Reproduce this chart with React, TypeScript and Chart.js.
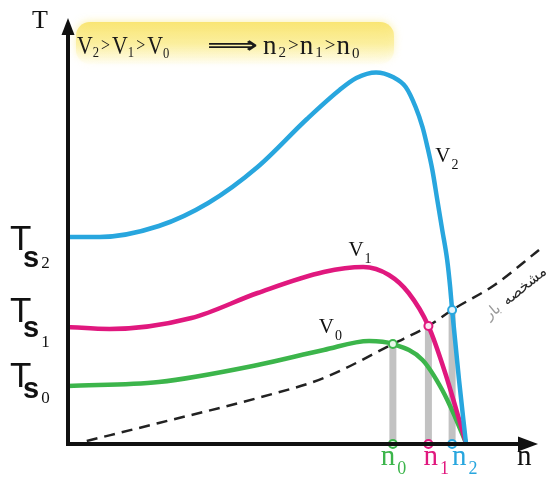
import { useEffect, useRef } from "react";
import { Chart, registerables } from "chart.js";

Chart.register(...registerables);

// Motor speed n (x) and torque T (y) for three supply voltages
const speedV0 = [0, 23, 48, 64.75, 76.25, 82.25, 89.75, 94.75, 98, 100.75];
const torqueV0 = [14.5, 15.5, 19.75, 23.5, 25.75, 25, 21, 13.5, 6.75, 0.25];

const speedV1 = [0, 10.5, 31.25, 48, 64.75, 74.75, 81.25, 86.25, 91.25, 95.5, 100.75];
const torqueV1 = [29.25, 28.75, 31.5, 37.75, 43, 44.25, 42.25, 37.75, 29.5, 17.75, 0.25];

const speedV2 = [0, 8, 23, 35.5, 48, 60.5, 68.75, 73, 78, 82.25, 85.5, 88, 89.75, 91, 92.25, 93.5, 94.75, 96, 96.75, 97.25, 99, 100.75];
const torqueV2 = [51.75, 51.75, 54.5, 60.25, 69.25, 81.25, 88.5, 91.5, 92.9, 91.75, 89.25, 84.25, 79.25, 74.25, 68.5, 61, 53.5, 46, 39.25, 33.5, 16, 0.25];

// Load characteristic
const loadSpeed = [4.75, 23, 48, 64.75, 82.25, 91.25, 97.25, 108, 119.25];
const loadTorque = [0.75, 5.25, 11.5, 16.5, 25, 29.5, 33.5, 39.75, 48.5];

// Operating points n0, n1, n2 (load line meets each motor curve)
const opSpeed = [82.25, 91.25, 97.25];
const opTorque = [25, 29.5, 33.5];

// Index labels (0 → V0 / n0 / Ts0, ...)
const indexLabels = ["0", "1", "2"];
const seriesColors = ["#3cb54b", "#e0187e", "#28a6de"];
const pointFills = ["#e9f7ea", "#fbe6f1", "#e4f4fb"];

const xy = (xs: number[], ys: number[]) => xs.map((x, i) => ({ x, y: ys[i] }));

type Run = { t: string; font: string; dy?: number; gap?: number };

function drawRuns(ctx: CanvasRenderingContext2D, x: number, y: number, runs: Run[], sx = 1) {
  let cx = x;
  for (const r of runs) {
    ctx.font = r.font;
    const w = ctx.measureText(r.t).width * sx;
    ctx.save();
    ctx.translate(cx, y + (r.dy || 0));
    ctx.scale(sx, 1);
    ctx.fillText(r.t, 0, 0);
    ctx.restore();
    cx += w + (r.gap || 0);
  }
  return cx;
}

const SERIF = "'Liberation Serif', 'Times New Roman', serif";
const SANS = "'Liberation Sans', Arial, sans-serif";

const decorPlugin = {
  id: "diagramDecor",
  beforeDatasetsDraw(chart: any) {
    const ctx: CanvasRenderingContext2D = chart.ctx;
    // highlighted relation box
    ctx.save();
    const g = ctx.createLinearGradient(0, 22, 0, 66);
    g.addColorStop(0, "rgba(249,228,110,0.95)");
    g.addColorStop(0.5, "rgba(251,238,150,0.75)");
    g.addColorStop(1, "rgba(255,252,225,0.1)");
    ctx.fillStyle = g;
    ctx.shadowColor = "rgba(250,235,140,0.8)";
    ctx.shadowBlur = 8;
    ctx.beginPath();
    (ctx as any).roundRect(76, 22, 318, 42, 14);
    ctx.fill();
    ctx.restore();
  },
  afterDatasetsDraw(chart: any) {
    const ctx: CanvasRenderingContext2D = chart.ctx;
    const xs = chart.scales.x;
    const ys = chart.scales.y;
    const ox = xs.getPixelForValue(0);
    const oy = ys.getPixelForValue(0);
    const top = ys.getPixelForValue(106.5);
    const right = xs.getPixelForValue(119);

    ctx.save();
    // axes with arrow heads
    ctx.strokeStyle = "#111";
    ctx.fillStyle = "#111";
    ctx.lineWidth = 4;
    ctx.beginPath();
    ctx.moveTo(ox, oy + 2);
    ctx.lineTo(ox, top + 12);
    ctx.moveTo(ox - 2, oy);
    ctx.lineTo(right - 16, oy);
    ctx.stroke();
    ctx.beginPath();
    ctx.moveTo(ox, top);
    ctx.lineTo(ox - 6.5, top + 17);
    ctx.lineTo(ox + 6.5, top + 17);
    ctx.closePath();
    ctx.fill();
    ctx.beginPath();
    ctx.moveTo(right, oy);
    ctx.lineTo(right - 20, oy - 7.5);
    ctx.lineTo(right - 20, oy + 7.5);
    ctx.closePath();
    ctx.fill();

    // axis names
    ctx.fillStyle = "#111";
    ctx.textAlign = "left";
    ctx.textBaseline = "alphabetic";
    ctx.font = `26px ${SERIF}`;
    ctx.fillText("T", 32, 28);
    ctx.font = `29px ${SERIF}`;
    ctx.fillText("n", 517, 465);

    // relation text in the box
    ctx.fillStyle = "#1a1a1a";
    const base = 54;
    const vf = `26px ${SERIF}`;
    const sf = `15px ${SERIF}`;
    const gf = `19px ${SERIF}`;
    drawRuns(
      ctx,
      77,
      base,
      [
        { t: "V", font: vf },
        { t: "2", font: sf, dy: 3, gap: 2 },
        { t: ">", font: gf, dy: -3, gap: 2 },
        { t: "V", font: vf },
        { t: "1", font: sf, dy: 3, gap: 2 },
        { t: ">", font: gf, dy: -3, gap: 2 },
        { t: "V", font: vf },
        { t: "0", font: sf, dy: 4 },
      ],
      0.84
    );
    ctx.font = `bold 24px 'DejaVu Sans', sans-serif`;
    const am = ctx.measureText("⟹");
    const aMid = (am.actualBoundingBoxAscent - am.actualBoundingBoxDescent) / 2;
    ctx.save();
    ctx.translate(207, base - 9 + aMid);
    ctx.scale(51 / am.width, 1);
    ctx.fillText("⟹", 0, 0);
    ctx.restore();
    const nf = `27px ${SERIF}`;
    drawRuns(ctx, 263, base, [
      { t: "n", font: nf, gap: 2 },
      { t: "2", font: sf, dy: 3, gap: 2 },
      { t: ">", font: gf, dy: -3, gap: 1 },
      { t: "n", font: nf, gap: 2 },
      { t: "1", font: sf, dy: 3, gap: 2 },
      { t: ">", font: gf, dy: -3, gap: 1 },
      { t: "n", font: nf, gap: 2 },
      { t: "0", font: sf, dy: 4 },
    ]);

    // Ts labels beside the starting torque of each curve
    const startTorque = [torqueV0[0], torqueV1[0], torqueV2[0]];
    const tShift = [1, -5, 13];
    const sShift = [11, 15, 17];
    const subShift = [16, 25, 18];
    indexLabels.forEach((lab, i) => {
      const b = ys.getPixelForValue(startTorque[i]) + tShift[i];
      ctx.fillStyle = "#111";
      ctx.font = `35px ${SANS}`;
      ctx.fillText("T", 10, b);
      ctx.font = `bold 29px ${SANS}`;
      ctx.fillText("s", 23, b + sShift[i]);
      const sw = ctx.measureText("s").width;
      ctx.font = `17px ${SERIF}`;
      ctx.fillText(lab, 23 + sw + 2, b + subShift[i]);
    });

    // curve names
    const curveAnchors = [
      [63.5, 27.75],
      [71, 47],
      [93, 70.5],
    ];
    curveAnchors.forEach(([cx, cy], i) => {
      ctx.fillStyle = "#111";
      drawRuns(ctx, xs.getPixelForValue(cx), ys.getPixelForValue(cy), [
        { t: "V", font: `21px ${SERIF}`, gap: 1 },
        { t: indexLabels[i], font: `14px ${SERIF}`, dy: 7 },
      ]);
    });

    // operating speed labels under the axis
    const nShift = [-12, -5, 0];
    opSpeed.forEach((n, i) => {
      ctx.fillStyle = seriesColors[i];
      drawRuns(ctx, xs.getPixelForValue(n) + nShift[i], 465, [
        { t: "n", font: `29px ${SERIF}`, gap: 2 },
        { t: indexLabels[i], font: `18px ${SERIF}`, dy: 9 },
      ]);
    });

    // load characteristic caption along the dashed line
    ctx.save();
    ctx.translate(514, 300);
    ctx.rotate(-0.68);
    ctx.textAlign = "center";
    ctx.font = `15px 'DejaVu Sans', sans-serif`;
    ctx.fillStyle = "#2a2a2a";
    ctx.fillText("مشخصه", 17, 0);
    ctx.fillStyle = "#9a9a9a";
    ctx.fillText("بار", -24, 0);
    ctx.restore();

    ctx.restore();
  },
};

export default function App() {
  const canvasRef = useRef<HTMLCanvasElement | null>(null);

  useEffect(() => {
    const canvas = canvasRef.current;
    if (!canvas) return;

    const bars = opSpeed.map((n, i) => ({
      type: "line" as const,
      data: [
        { x: n, y: 0 },
        { x: n, y: opTorque[i] },
      ],
      borderColor: "#c2c2c2",
      borderWidth: 7,
      borderCapStyle: "butt" as const,
      pointRadius: 0,
      order: 4,
    }));

    const curve = (xs: number[], ys: number[], color: string) => ({
      data: xy(xs, ys),
      borderColor: color,
      borderWidth: 4.5,
      pointRadius: 0,
      cubicInterpolationMode: "monotone" as const,
      order: 2,
    });

    const chart = new Chart(canvas, {
      type: "line",
      data: {
        datasets: [
          {
            data: xy(opSpeed, opTorque),
            showLine: false,
            pointRadius: 4,
            pointBorderWidth: 2,
            pointBorderColor: seriesColors,
            pointBackgroundColor: pointFills,
            order: 0,
          },
          {
            data: opSpeed.map((x) => ({ x, y: 0 })),
            showLine: false,
            pointRadius: 4,
            pointBorderWidth: 2,
            pointBorderColor: seriesColors,
            pointBackgroundColor: pointFills,
            order: 0,
          },
          curve(speedV2, torqueV2, seriesColors[2]),
          curve(speedV1, torqueV1, seriesColors[1]),
          curve(speedV0, torqueV0, seriesColors[0]),
          {
            data: xy(loadSpeed, loadTorque),
            borderColor: "#222",
            borderWidth: 2.5,
            borderDash: [11, 7],
            pointRadius: 0,
            cubicInterpolationMode: "monotone" as const,
            order: 3,
          },
          ...bars,
        ] as any,
      },
      options: {
        animation: false,
        responsive: false,
        devicePixelRatio: 1,
        layout: { padding: { left: 68, right: 0, top: 10, bottom: 35 } },
        scales: {
          x: { type: "linear", min: 0, max: 119.5, display: false },
          y: { type: "linear", min: 0, max: 108.5, display: false },
        },
        plugins: { legend: { display: false }, tooltip: { enabled: false } },
        datasets: { line: { clip: false as any } },
        elements: { line: { fill: false } },
      } as any,
      plugins: [decorPlugin],
    });

    return () => chart.destroy();
  }, []);

  return (
    <div style={{ position: "absolute", left: 0, top: 0, width: 546, height: 479, background: "#fff" }}>
      <canvas ref={canvasRef} width={546} height={479} style={{ display: "block" }} />
    </div>
  );
}
